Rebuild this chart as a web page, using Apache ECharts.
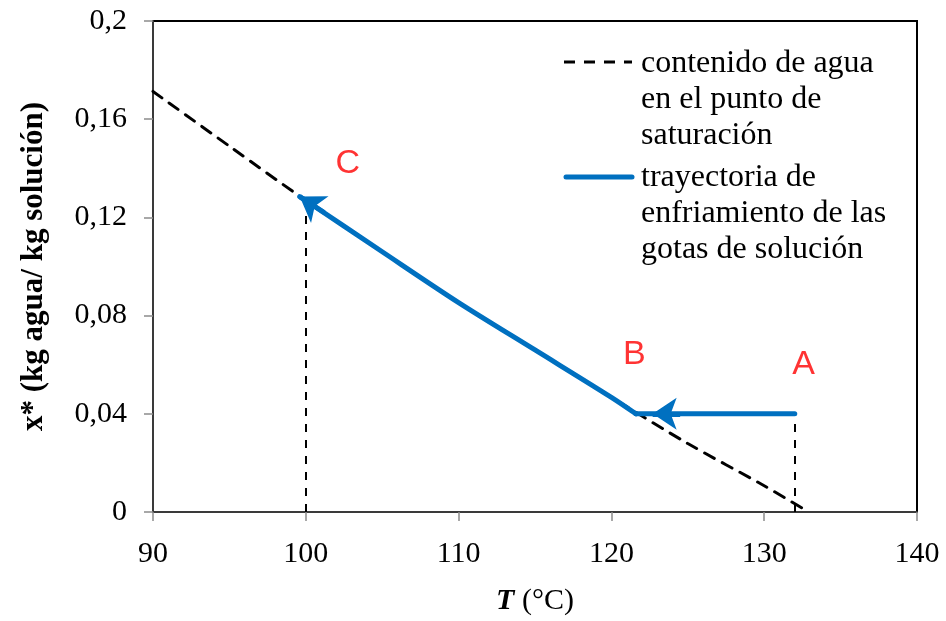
<!DOCTYPE html>
<html>
<head>
<meta charset="utf-8">
<script src="https://cdn.jsdelivr.net/npm/echarts@6/dist/echarts.min.js"></script>
<style>
  html, body { margin: 0; padding: 0; background: #fff; overflow: hidden; }
  #chart { width: 946px; height: 621px; }
</style>
</head>
<body>
<div id="chart"></div>
<script>
// Saturation water content curve (T in °C, x* in kg agua / kg solución)
const satT = [90, 95, 100, 105, 110, 115, 120, 125, 130, 132.9];
const satX = [0.1713, 0.149, 0.1269, 0.106, 0.0853, 0.066, 0.0467, 0.0279, 0.0107, 0];

// Cooling path of the droplets: A -> B at constant x*, then B -> C along the curve
const stepT = [132, 121.6];
const stepX = [0.04, 0.04];
const coolT = [121.6, 120, 115, 110, 105, 100, 99.6];
const coolX = [0.04, 0.0467, 0.066, 0.0853, 0.106, 0.1269, 0.1285];

// Short segments that carry the direction arrows (end = arrow tip)
const arrowFromT = [124.5, 101.2];
const arrowFromX = [0.04, 0.1220];
const arrowToT = [122.7, 99.6];
const arrowToX = [0.04, 0.1285];

// Vertical reference drops to the T axis
const dropT = [100, 132];
const dropTop = [0.1208, 0.04];

// Point labels
const pointNames = ['A', 'B', 'C'];
const pointT = [132.58, 121.5, 102.75];
const pointX = [0.0602, 0.0642, 0.1418];

// Axis ticks
const xTicks = [90, 100, 110, 120, 130, 140];
const yTicks = [0, 0.04, 0.08, 0.12, 0.16, 0.2];
const yTickLabels = ['0', '0,04', '0,08', '0,12', '0,16', '0,2'];

const BLUE = '#0070C0';
const SERIF = '"Liberation Serif", "Times New Roman", serif';

const zip = (a, b) => a.map((v, i) => [v, b[i]]);

const chart = echarts.init(document.getElementById('chart'));

chart.setOption({
  animation: false,
  grid: {
    left: 153, right: 29, top: 21, bottom: 105,
    show: true, borderColor: '#000', borderWidth: 2, backgroundColor: 'transparent'
  },
  xAxis: {
    type: 'value', min: xTicks[0], max: xTicks[xTicks.length - 1], interval: 10,
    splitLine: { show: false },
    axisLine: { show: true, onZero: false, lineStyle: { color: '#3a3a3a', width: 2 } },
    axisTick: { show: true, inside: false, length: 9, lineStyle: { color: '#8c8c8c', width: 1.5 } },
    axisLabel: { margin: 27, fontFamily: SERIF, fontSize: 30, color: '#000' },
    name: '{b|T}{n| (°C)}',
    nameLocation: 'middle',
    nameGap: 74,
    nameTextStyle: {
      rich: {
        b: { fontFamily: SERIF, fontSize: 30, fontWeight: 'bold', fontStyle: 'italic', color: '#000' },
        n: { fontFamily: SERIF, fontSize: 30, color: '#000' }
      }
    }
  },
  yAxis: {
    type: 'value', min: yTicks[0], max: yTicks[yTicks.length - 1], interval: 0.04,
    splitLine: { show: false },
    axisLine: { show: true, onZero: false, lineStyle: { color: '#3a3a3a', width: 2 } },
    axisTick: { show: true, inside: false, length: 9, lineStyle: { color: '#8c8c8c', width: 1.5 } },
    axisLabel: {
      margin: 26, fontFamily: SERIF, fontSize: 30, color: '#000',
      formatter: v => {
        const i = yTicks.findIndex(t => Math.abs(t - v) < 1e-9);
        return i >= 0 ? yTickLabels[i] : '';
      }
    },
    name: 'x* (kg agua/ kg solución)',
    nameLocation: 'middle',
    nameGap: 104,
    nameTextStyle: { fontFamily: SERIF, fontSize: 31, fontWeight: 'bold', color: '#000' }
  },
  series: [
    {
      name: 'saturacion',
      type: 'line',
      data: zip(satT, satX),
      symbol: 'none',
      smooth: 0.3,
      lineStyle: { color: '#000', width: 3, type: [11, 9], cap: 'round' },
      z: 2
    },
    {
      name: 'caidas',
      type: 'lines',
      coordinateSystem: 'cartesian2d',
      symbol: ['none', 'none'],
      lineStyle: { color: '#000', width: 2, type: [8, 8], opacity: 1 },
      data: dropT.map((t, i) => ({ coords: [[t, 0], [t, dropTop[i]]] })),
      z: 2
    },
    {
      name: 'trayectoria',
      type: 'line',
      data: zip(stepT, stepX),
      symbol: 'none',
      lineStyle: { color: BLUE, width: 5, cap: 'round', join: 'round' },
      z: 3
    },
    {
      name: 'trayectoria',
      type: 'line',
      data: zip(coolT, coolX),
      symbol: 'none',
      smooth: 0.3,
      lineStyle: { color: BLUE, width: 5, cap: 'round', join: 'round' },
      z: 3
    },
    {
      name: 'flechas',
      type: 'lines',
      coordinateSystem: 'cartesian2d',
      symbol: ['none', 'arrow'],
      symbolSize: [28, 24],
      lineStyle: { color: BLUE, width: 5, opacity: 1 },
      data: arrowFromT.map((t, i) => ({ coords: [[t, arrowFromX[i]], [arrowToT[i], arrowToX[i]]] })),
      z: 4
    },
    {
      name: 'puntos',
      type: 'scatter',
      symbolSize: 0,
      data: pointNames.map((n, i) => ({ name: n, value: [pointT[i], pointX[i]] })),
      label: {
        show: true, position: 'inside', formatter: '{b}',
        fontFamily: '"Liberation Sans", Arial, sans-serif', fontSize: 34, color: '#FF0000'
      },
      z: 5
    }
  ],
  graphic: [
    // legend: saturation curve
    {
      type: 'line', shape: { x1: 564, y1: 62, x2: 632, y2: 62 },
      style: { stroke: '#000', lineWidth: 3, lineDash: [11, 9] }
    },
    {
      type: 'text', left: 641, top: 46,
      style: {
        text: 'contenido de agua\nen el punto de\nsaturación',
        font: '32px ' + SERIF, fill: '#000', lineHeight: 36
      }
    },
    // legend: cooling path
    {
      type: 'line', shape: { x1: 566, y1: 177, x2: 632, y2: 177 },
      style: { stroke: BLUE, lineWidth: 5, lineCap: 'round' }
    },
    {
      type: 'text', left: 641, top: 160,
      style: {
        text: 'trayectoria de\nenfriamiento de las\ngotas de solución',
        font: '32px ' + SERIF, fill: '#000', lineHeight: 36
      }
    }
  ]
});
</script>
</body>
</html>
